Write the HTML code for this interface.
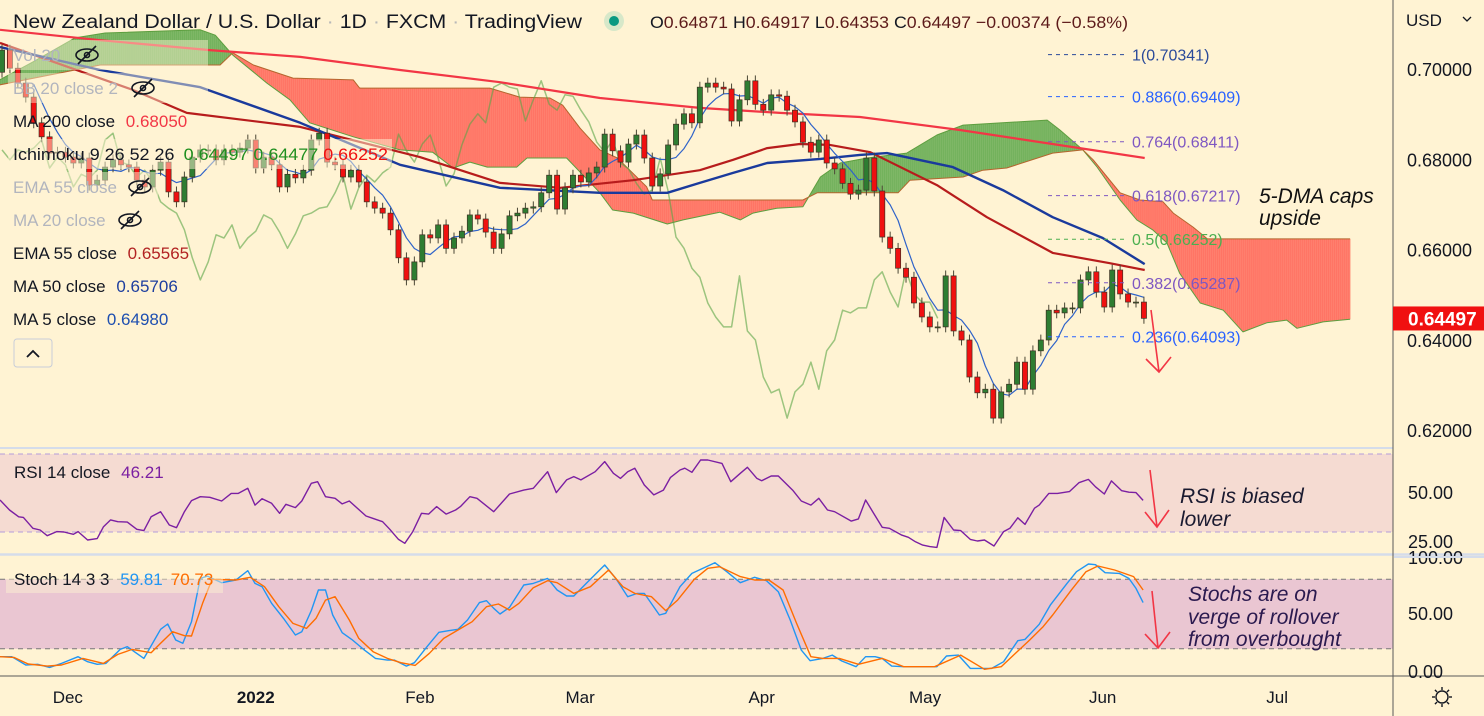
<!DOCTYPE html>
<html><head><meta charset="utf-8"><style>
body{margin:0;background:#fff3d3;}
svg{display:block;font-family:"Liberation Sans",sans-serif;}
</style></head><body>
<svg id="c" width="1484" height="716" viewBox="0 0 1484 716" xmlns="http://www.w3.org/2000/svg">
<rect x="0" y="0" width="1484" height="716" fill="#fff3d3"/>
<defs><clipPath id="mainClip"><rect x="0" y="0" width="1393" height="447"/></clipPath>
<clipPath id="rsiClip"><rect x="0" y="449" width="1393" height="104"/></clipPath>
<clipPath id="stClip"><rect x="0" y="556" width="1393" height="119"/></clipPath></defs>
<g id="rsiBg"></g>
<g id="stBg"></g>
<g id="cloud" clip-path="url(#mainClip)"></g>
<g id="lines" clip-path="url(#mainClip)"></g>
<g id="candles" clip-path="url(#mainClip)"></g>
<g id="fib"></g>
<g id="rsiG" clip-path="url(#rsiClip)"></g>
<g id="stG" clip-path="url(#stClip)"></g>
<g id="axes"></g>

<g font-size="17">
<text x="13" y="28" font-size="19" fill="#131722" textLength="569" lengthAdjust="spacingAndGlyphs">New Zealand Dollar / U.S. Dollar <tspan fill="#b8b8b8">·</tspan> 1D <tspan fill="#b8b8b8">·</tspan> FXCM <tspan fill="#b8b8b8">·</tspan> TradingView</text>
<circle cx="614" cy="21" r="10" fill="#d7e8c9"/>
<circle cx="614" cy="21" r="5" fill="#089981"/>
<text x="650" y="28" font-size="17" fill="#131722" textLength="478" lengthAdjust="spacingAndGlyphs">O<tspan fill="#5d1a1a">0.64871</tspan> H<tspan fill="#5d1a1a">0.64917</tspan> L<tspan fill="#5d1a1a">0.64353</tspan> C<tspan fill="#5d1a1a">0.64497</tspan> <tspan fill="#5d1a1a">−0.00374 (−0.58%)</tspan></text>
<rect x="8" y="40" width="200" height="30" fill="#fff3d3" opacity="0.45"/>
<text x="13" y="61" fill="#b2b5be">Vol 20</text>
<g stroke="#131722" fill="none" stroke-width="1.6"><ellipse cx="87" cy="55" rx="11" ry="6"/><circle cx="87" cy="55" r="2.5"/><line x1="78" y1="64" x2="96" y2="46"/></g>
<rect x="8" y="73" width="200" height="30" fill="#fff3d3" opacity="0.45"/>
<text x="13" y="94" fill="#b2b5be">BB 20 close 2</text>
<g stroke="#131722" fill="none" stroke-width="1.6"><ellipse cx="143" cy="88" rx="11" ry="6"/><circle cx="143" cy="88" r="2.5"/><line x1="134" y1="97" x2="152" y2="79"/></g>
<text x="13" y="127" fill="#131722">MA 200 close <tspan dx="6" fill="#f23645">0.68050</tspan></text>
<rect x="8" y="139" width="384" height="30" fill="#fff3d3" opacity="0.5"/>
<text x="13" y="160" fill="#131722" textLength="375" lengthAdjust="spacingAndGlyphs">Ichimoku 9 26 52 26 <tspan dx="4" fill="#1f8f1f">0.64497</tspan> <tspan fill="#1f8f1f">0.64477</tspan> <tspan fill="#f01010">0.66252</tspan></text>
<rect x="8" y="172" width="150" height="30" fill="#fff3d3" opacity="0.5"/>
<text x="13" y="193" fill="#b2b5be">EMA 55 close</text>
<g stroke="#131722" fill="none" stroke-width="1.6"><ellipse cx="140" cy="187" rx="11" ry="6"/><circle cx="140" cy="187" r="2.5"/><line x1="131" y1="196" x2="149" y2="178"/></g>
<text x="13" y="226" fill="#b2b5be">MA 20 close</text>
<g stroke="#131722" fill="none" stroke-width="1.6"><ellipse cx="130" cy="220" rx="11" ry="6"/><circle cx="130" cy="220" r="2.5"/><line x1="121" y1="229" x2="139" y2="211"/></g>
<text x="13" y="259" fill="#131722">EMA 55 close <tspan dx="6" fill="#b22222">0.65565</tspan></text>
<text x="13" y="292" fill="#131722">MA 50 close <tspan dx="6" fill="#1e3f9f">0.65706</tspan></text>
<text x="13" y="325" fill="#131722">MA 5 close <tspan dx="6" fill="#1e4fb0">0.64980</tspan></text>
<g><rect x="14" y="339" width="38" height="28" rx="3" fill="none" stroke="#c8cdd8"/><path d="M27 357 L33 351 L39 357" fill="none" stroke="#131722" stroke-width="1.8"/></g>
</g>

<g font-style="italic" font-size="21">
<text x="1259" y="203" fill="#111">5-DMA caps</text>
<text x="1259" y="225" fill="#111">upside</text>
<text x="1180" y="503" fill="#1a1a30">RSI is biased</text>
<text x="1180" y="526" fill="#1a1a30">lower</text>
<text x="1188" y="601" fill="#2b1a4f">Stochs are on</text>
<text x="1188" y="624" fill="#2b1a4f">verge of rollover</text>
<text x="1188" y="646" fill="#2b1a4f">from overbought</text>
<g stroke="#f23645" stroke-width="1.6" fill="none">
<path d="M1151 310 L1159 372 M1146 359 L1159 372 L1171 357"/>
<path d="M1150 470 L1157 527 M1145 512 L1157 527 L1169 510"/>
<path d="M1152 591 L1158 648 M1145 634 L1158 648 L1170 632"/>
</g>
</g>
</svg>
<script>
// ---------- data ----------
const closes = [0.7044,0.7004,0.6971,0.6940,0.6883,0.6852,0.6816,0.6818,0.6807,0.6794,0.6805,0.6745,0.6756,0.6785,0.6801,0.6790,0.6785,0.6756,0.6741,0.6778,
0.6796,0.6730,0.6708,0.6763,0.6807,0.6823,0.6823,0.6801,0.6823,0.6818,0.6827,0.6845,0.6783,0.6807,0.6790,0.6741,0.6769,0.6761,0.6778,0.6845,
0.6860,0.6796,0.6790,0.6763,0.6778,0.6752,0.6708,0.6694,0.6683,0.6646,0.6584,0.6535,0.6575,0.6635,0.6628,0.6657,0.6605,0.6628,0.6643,0.6679,
0.6670,0.6641,0.6605,0.6637,0.6677,0.6683,0.6694,0.6697,0.6728,0.6767,0.6692,0.6739,0.6767,0.6752,0.6772,0.6785,0.6858,0.6821,0.6796,0.6836,
0.6856,0.6805,0.6743,0.6770,0.6834,0.6880,0.6903,0.6883,0.6962,0.6971,0.6962,0.6958,0.6887,0.6934,0.6976,0.6924,0.6911,0.6945,0.6942,0.6911,
0.6885,0.6840,0.6818,0.6845,0.6794,0.6781,0.6749,0.6725,0.6734,0.6805,0.6732,0.6630,0.6605,0.6561,0.6541,0.6484,0.6453,0.6431,0.6431,0.6544,
0.6422,0.6402,0.6320,0.6285,0.6293,0.6229,0.6287,0.6304,0.6353,0.6293,0.6378,0.6402,0.6468,0.6462,0.6473,0.6473,0.6535,0.6553,0.6508,0.6475,
0.6557,0.6504,0.6486,0.6486,0.6450];
const firstOpen = 0.6995;
const ma200Idx = [-0.25,12.4,26.2,37.6,50.2,62.8,75.4,88.0,98.1,108.2,120.8,135.9,144.1];
const ma200Val = [0.7089,0.7066,0.7044,0.7029,0.7000,0.6973,0.6938,0.6916,0.6905,0.6896,0.6867,0.6827,0.6805];
const ema55Idx = [-0.25,16.5,23.3,37.6,52.7,62.8,70.4,79.6,88.0,92.2,96.5,100.6,104.4,109.5,117.9,124.2,132.5,139.7,144.1];
const ema55Val = [0.7060,0.6956,0.6905,0.6874,0.6807,0.6750,0.6739,0.6756,0.6778,0.6801,0.6827,0.6836,0.6834,0.6818,0.6745,0.6674,0.6595,0.6572,0.6557];
const ma50Idx = [-0.25,12.4,25.0,37.6,50.2,62.8,75.4,83.9,88.0,92.2,96.5,103.2,108.2,111.6,119.9,126.2,132.5,138.8,144.1];
const ma50Val = [0.7051,0.7000,0.6962,0.6883,0.6790,0.6739,0.6728,0.6728,0.6750,0.6772,0.6794,0.6803,0.6812,0.6816,0.6785,0.6734,0.6674,0.6628,0.6570];
const spanAIdx = [-0.3,3.9,9.2,13.0,25.0,26.9,29.1,33.4,36.3,38.8,44.3,50.2,54.3,56.9,59.0,61.2,64.9,66.2,71.2,75.4,77.0,79.6,83.9,85.9,90.5,93.1,94.7,97.7,101.0,103.2,105.7,109.1,114.1,117.9,121.2,131.8,133.4,136.3,138.1,141.0,143.1,145.1,146.9,148.5,151.1,154.0,156.5,159.5,162.0,163.3,166.6,170.0];
const spanAVal = [0.6978,0.7018,0.7071,0.7082,0.7089,0.7077,0.7033,0.6971,0.6934,0.6883,0.6852,0.6823,0.6818,0.6783,0.6796,0.6785,0.6785,0.6805,0.6805,0.6728,0.6690,0.6683,0.6659,0.6668,0.6685,0.6668,0.6683,0.6694,0.6697,0.6763,0.6794,0.6805,0.6816,0.6856,0.6878,0.6889,0.6867,0.6823,0.6785,0.6712,0.6668,0.6646,0.6617,0.6550,0.6484,0.6468,0.6420,0.6440,0.6446,0.6428,0.6442,0.6448];
const spanBIdx = [-0.3,12.4,27.5,29.1,31.7,36.7,44.3,45.1,61.5,65.3,69.1,70.7,72.9,75.4,77.6,81.3,82.0,101.0,102.8,113.0,114.5,121.2,123.7,126.7,132.5,136.3,137.6,139.7,141.0,143.5,146.4,147.7,150.2,152.0,170.0];
const spanBVal = [0.6967,0.7011,0.7011,0.7038,0.7011,0.6982,0.6978,0.6960,0.6960,0.6940,0.6938,0.6922,0.6871,0.6823,0.6805,0.6741,0.6712,0.6712,0.6728,0.6728,0.6756,0.6763,0.6778,0.6783,0.6816,0.6823,0.6801,0.6756,0.6728,0.6712,0.6708,0.6683,0.6652,0.6626,0.6626];
const rsiPoints = [[-0.25,46.4],[0.94,41.3],[2.1,37.8],[2.7,37.5],[3.9,31.9],[4.8,31.0],[5.7,28.1],[6.9,30.2],[7.8,30.0],[9.0,28.8],[9.6,30.2],[10.8,25.9],[12.0,26.6],[12.8,32.7],[13.7,36.2],[14.6,35.3],[15.8,35.1],[17.0,31.4],[17.9,30.7],[18.8,37.8],[20.0,40.4],[21.1,33.6],[22.0,32.2],[23.0,40.4],[23.9,46.1],[25.0,48.1],[26.2,47.8],[27.7,45.9],[28.9,49.8],[29.8,49.8],[31.0,52.4],[31.9,43.8],[32.8,47.1],[34.0,44.7],[35.0,39.6],[35.8,44.2],[37.0,42.5],[37.8,45.9],[39.0,55.0],[39.8,55.8],[40.8,48.1],[42.0,47.3],[42.9,44.4],[43.8,45.9],[45.9,38.2],[46.8,37.0],[48.0,35.3],[48.9,31.4],[50.0,26.2],[50.8,24.2],[51.8,30.2],[52.9,39.6],[53.8,39.2],[54.8,43.0],[56.0,39.2],[57.2,41.3],[57.8,43.0],[59.0,48.1],[59.9,47.3],[62.0,40.4],[64.0,49.5],[65.8,51.5],[67.0,52.4],[68.8,60.9],[69.9,50.2],[71.2,56.7],[72.1,58.4],[73.0,56.7],[74.8,60.9],[76.0,66.1],[77.1,60.1],[78.0,57.5],[78.9,60.9],[79.8,62.7],[81.0,54.1],[82.2,49.0],[83.4,51.5],[84.3,58.0],[85.5,61.8],[86.1,62.7],[87.0,60.6],[88.1,66.9],[89.0,66.9],[90.8,65.2],[91.9,55.8],[93.1,60.1],[94.0,63.2],[95.2,57.5],[95.8,56.3],[97.0,58.7],[97.9,58.7],[99.7,51.5],[100.8,45.9],[102.0,43.8],[103.0,47.3],[104.1,41.3],[105.0,40.4],[107.1,35.6],[108.0,36.7],[108.9,46.4],[109.8,40.4],[111.0,32.4],[111.9,31.9],[113.4,28.5],[114.3,27.3],[115.2,25.0],[116.1,23.3],[117.0,22.5],[117.9,22.1],[118.8,37.5],[120.0,31.0],[120.9,30.7],[122.1,26.2],[123.0,25.4],[123.9,25.9],[125.1,22.8],[126.3,30.2],[127.1,31.9],[128.1,37.3],[129.0,33.9],[130.2,42.2],[130.8,43.8],[132.0,49.8],[133.1,49.8],[134.6,50.7],[135.8,55.3],[137.0,57.0],[137.9,53.2],[139.0,49.5],[139.9,56.2],[141.2,51.2],[142.1,50.4],[143.0,50.2],[143.9,46.2]];
const stochKPoints = [[-0.25,13.2],[1.24,13.2],[3.0,6.0],[4.5,6.6],[6.0,4.0],[7.5,7.4],[9.6,13.2],[10.8,8.9],[12.0,6.6],[13.1,7.4],[14.9,19.5],[15.8,21.8],[17.9,11.7],[20.0,36.8],[20.9,41.4],[21.9,27.6],[22.8,24.7],[23.9,43.4],[25.0,80.7],[25.9,82.7],[27.7,77.0],[29.5,79.3],[31.0,87.3],[31.9,76.4],[32.8,73.5],[34.0,59.2],[35.5,46.2],[37.0,31.9],[37.8,34.7],[39.0,52.9],[39.9,70.7],[40.8,70.7],[41.7,49.1],[42.9,33.9],[44.1,28.1],[45.6,19.5],[47.1,11.7],[48.6,10.3],[49.5,10.3],[51.0,5.1],[52.0,8.0],[53.6,21.8],[55.1,34.2],[56.3,35.6],[57.5,36.8],[58.7,44.8],[60.2,59.8],[61.1,61.5],[62.0,54.9],[62.8,50.0],[64.0,55.7],[65.8,75.0],[67.0,76.4],[68.8,80.7],[70.0,70.7],[71.2,65.5],[72.1,65.5],[73.9,77.9],[76.0,92.2],[77.4,80.7],[78.9,64.9],[80.1,67.8],[81.0,67.8],[82.9,49.1],[83.7,50.6],[85.5,73.5],[87.0,85.0],[88.4,89.4],[89.9,94.2],[91.4,86.5],[93.1,77.0],[94.9,81.6],[96.4,78.7],[97.9,69.2],[99.4,44.8],[100.8,18.9],[101.9,9.7],[103.5,11.7],[104.7,14.6],[105.9,9.5],[107.7,4.6],[108.9,13.2],[110.1,13.2],[111.0,11.7],[112.2,5.1],[113.7,4.6],[117.9,4.6],[119.1,13.8],[120.6,14.6],[122.1,3.1],[124.8,3.1],[126.3,8.9],[128.1,27.0],[129.0,28.1],[130.8,41.1],[132.2,57.7],[134.3,76.4],[135.5,86.5],[137.0,93.1],[137.9,92.5],[139.1,85.6],[140.9,85.0],[142.1,80.7],[143.0,72.1],[143.9,59.8]];
const stochDPoints = [[-0.25,13.2],[1.5,12.6],[3.3,6.9],[5.7,5.1],[7.5,6.0],[10.2,11.7],[12.8,7.4],[14.6,15.2],[16.4,19.5],[18.8,16.6],[20.0,24.7],[21.5,34.7],[23.0,31.3],[23.9,31.0],[25.3,59.2],[26.5,79.9],[29.5,79.3],[31.3,81.6],[33.1,73.5],[34.9,56.3],[36.7,41.9],[38.4,37.6],[39.6,46.2],[40.8,62.0],[42.0,64.9],[43.8,44.8],[45.0,29.0],[46.8,17.5],[48.6,11.7],[50.3,8.0],[52.1,5.7],[53.9,16.1],[55.7,29.0],[57.5,36.2],[59.3,43.4],[61.1,56.3],[62.6,58.6],[64.0,53.4],[65.2,59.2],[67.0,72.7],[68.8,78.7],[70.0,77.0],[72.1,67.8],[74.2,73.5],[76.5,87.9],[78.3,73.5],[79.8,67.8],[81.9,64.9],[83.7,52.9],[85.2,62.0],[87.3,79.9],[89.0,89.4],[90.5,90.8],[93.1,82.2],[94.9,79.3],[96.7,79.3],[98.5,70.7],[100.2,41.9],[102.0,13.2],[103.5,11.7],[105.6,11.7],[108.0,6.6],[111.0,11.7],[113.7,4.6],[117.6,4.6],[120.9,14.6],[123.9,2.3],[126.0,4.6],[127.8,16.1],[129.6,27.6],[131.3,39.1],[132.5,49.1],[134.9,71.2],[136.7,86.5],[138.2,91.4],[140.3,87.9],[142.7,82.2],[143.9,70.7]];
const fibRatios = ["1","0.886","0.764","0.618","0.5","0.382","0.236"];
const fibPrices = [0.70341,0.69409,0.68411,0.67217,0.66252,0.65287,0.64093];
const priceTicks = [0.70,0.68,0.66,0.64,0.62];
const rsiTicks = [50,25];
const stochTicks = [100,50,0];
const timeLabels = ["Dec","2022","Feb","Mar","Apr","May","Jun","Jul"];
const timeIdx = [8.3,32.0,52.7,72.9,95.8,116.4,138.8,160.8];
const lastPrice = 0.64497;

// ---------- scales ----------
const NS="http://www.w3.org/2000/svg";
const X = i => 2 + i*7.93;
const Y = p => 70 + (0.70 - p)*4515;
const YR = v => 493 - (v-50)*1.95;
const YS = v => 672 - v*1.16;
function mk(tag, attrs, parent){const e=document.createElementNS(NS,tag);for(const k in attrs)e.setAttribute(k,attrs[k]);parent.appendChild(e);return e;}
function interp(idx, val, t){ if(t<=idx[0])return val[0]; for(let k=1;k<idx.length;k++){ if(t<=idx[k]){const f=(t-idx[k-1])/(idx[k]-idx[k-1]);return val[k-1]+f*(val[k]-val[k-1]);}} return val[val.length-1]; }

const rb=document.getElementById('rsiBg');
let e=mk('rect',{x:0,y:YR(70),width:1393,height:YR(30)-YR(70),fill:'#f5dbd2'},rb);


[70,30].forEach(v=>{mk('line',{x1:0,x2:1393,y1:YR(v),y2:YR(v),stroke:'#b39ddb','stroke-dasharray':'5,4','stroke-width':1},rb);});
const sb=document.getElementById('stBg');
e=mk('rect',{x:0,y:YS(80),width:1393,height:YS(20)-YS(80),fill:'#eac6d2'},sb);


[80,20].forEach(v=>{mk('line',{x1:0,x2:1393,y1:YS(v),y2:YS(v),stroke:'#787878','stroke-dasharray':'5,4','stroke-width':1},sb);});

const cg=document.getElementById('cloud');
const step=0.25;
for(let t=-0.5;t<170;t+=step){
  const a0=interp(spanAIdx,spanAVal,t),a1=interp(spanAIdx,spanAVal,t+step);
  const b0=interp(spanBIdx,spanBVal,t),b1=interp(spanBIdx,spanBVal,t+step);
  const col=((a0+a1)>=(b0+b1))?'rgba(76,160,60,0.72)':'rgba(255,82,70,0.72)';
  const pg=mk('polygon',{points:`${X(t)},${Y(a0)} ${X(t+step)+0.3},${Y(a1)} ${X(t+step)+0.3},${Y(b1)} ${X(t)},${Y(b0)}`,fill:col},cg);
  
  
}
function poly(idx,val,stroke,w,parent,name){
  let d='';for(let k=0;k<idx.length;k++){d+=(k?'L':'M')+X(idx[k]).toFixed(1)+' '+Y(val[k]).toFixed(1);}
  const p=mk('path',{d:d,fill:'none',stroke:stroke,'stroke-width':w,'stroke-linejoin':'round'},parent);
  
  
}
poly(spanAIdx,spanAVal,'#5d9e3f',1,cg,'leading-span-a');
poly(spanBIdx,spanBVal,'#b5652d',1,cg,'leading-span-b');

const lg=document.getElementById('lines');
const chIdx=[],chVal=[];
for(let i=26;i<closes.length;i++){chIdx.push(i-26);chVal.push(closes[i]);}
poly(chIdx,chVal,'rgba(90,165,70,0.6)',1.5,lg,'lagging-span');
poly(ma200Idx,ma200Val,'#f23645',2.2,lg,'ma200-line');
poly(ema55Idx,ema55Val,'#b71c1c',2.2,lg,'ema55-line');
poly(ma50Idx,ma50Val,'#1a3a9c',2.4,lg,'ma50-line');
const m5i=[],m5v=[];
for(let i=4;i<closes.length;i++){let s=0;for(let k=0;k<5;k++)s+=closes[i-k];m5i.push(i);m5v.push(s/5);}
poly(m5i,m5v,'#2f63c9',1.2,lg,'ma5-line');

const kg=document.getElementById('candles');
for(let i=0;i<closes.length;i++){
  const o=i?closes[i-1]:firstOpen,c=closes[i];
  const up=c>=o, x=X(i);
  const hi=Math.max(o,c)+0.0012, lo=Math.min(o,c)-0.0012;
  const w=mk('line',{x1:x,x2:x,y1:Y(hi),y2:Y(lo),stroke:'#4a4634','stroke-width':1},kg);
  
  
  const top=Y(Math.max(o,c)),h=Math.max(1,Math.abs(Y(o)-Y(c)));
  const b=mk('rect',{x:x-2.6,y:top,width:5.2,height:h,fill:up?'#2e7d32':'#f01010',stroke:'#3e3224','stroke-width':0.7},kg);
  
  
}

const fg=document.getElementById('fib');
const fibCols=['#2a4a9a','#2962ff','#7e57c2','#7e57c2','#4caf50','#7e57c2','#2962ff'];
fibPrices.forEach((p,k)=>{
  const l=mk('line',{x1:1048,x2:1127,y1:Y(p),y2:Y(p),stroke:fibCols[k],'stroke-dasharray':'4,4','stroke-width':1},fg);
  
  
  const t=mk('text',{x:1132,y:Y(p)+6,'font-size':16,fill:fibCols[k]},fg);
  t.textContent=fibRatios[k]+'('+p.toFixed(5)+')';
  
  
});

function pline(pts,ys,stroke,w,parent,name){
  let d='';pts.forEach((q,k)=>{d+=(k?'L':'M')+X(q[0]).toFixed(1)+' '+ys(q[1]).toFixed(1);});
  const p=mk('path',{d:d,fill:'none',stroke:stroke,'stroke-width':w,'stroke-linejoin':'round'},parent);
  
  
}
pline(rsiPoints,YR,'#7b1fa2',1.4,document.getElementById('rsiG'),'rsi-line');
pline(stochKPoints,YS,'#2196f3',1.4,document.getElementById('stG'),'stoch-k-line');
pline(stochDPoints,YS,'#ff6d00',1.4,document.getElementById('stG'),'stoch-d-line');

const ax=document.getElementById('axes');
mk('line',{x1:0,x2:1393,y1:448,y2:448,stroke:'#d5dcea','stroke-width':2},ax);
mk('line',{x1:0,x2:1484,y1:554.5,y2:554.5,stroke:'#d5dcea','stroke-width':2.5},ax);
mk('line',{x1:0,x2:1484,y1:676,y2:676,stroke:'#5a5a5a','stroke-width':1},ax);
mk('line',{x1:1393,x2:1393,y1:0,y2:716,stroke:'#5a5a5a','stroke-width':1},ax);
let t=mk('text',{x:1406,y:26,'font-size':17,fill:'#131722'},ax);t.textContent='USD';


mk('path',{d:'M1463 17 L1467 21 L1471 17',fill:'none',stroke:'#131722','stroke-width':1.3},ax);
priceTicks.forEach(p=>{const tt=mk('text',{x:1407,y:Y(p)+6,'font-size':18,fill:'#131722'},ax);tt.textContent=p.toFixed(5);

});
rsiTicks.forEach(v=>{const tt=mk('text',{x:1408,y:YR(v)+6,'font-size':18,fill:'#131722'},ax);tt.textContent=v.toFixed(2);

});
stochTicks.forEach(v=>{const yy=Math.max(YS(v)+6,564);const tt=mk('text',{x:1408,y:yy,'font-size':18,fill:'#131722'},ax);tt.textContent=v.toFixed(2);

});
mk('rect',{x:1394,y:556,width:90,height:2,fill:'#d5dcea'},ax);
const pb=mk('rect',{x:1393,y:Y(lastPrice)-12,width:91,height:24,fill:'#f01010'},ax);


t=mk('text',{x:1408,y:Y(lastPrice)+7,'font-size':19,'font-weight':'bold',fill:'#fff'},ax);t.textContent=lastPrice.toFixed(5);


timeLabels.forEach((s,k)=>{const tt=mk('text',{x:X(timeIdx[k]),y:703,'font-size':17,'text-anchor':'middle',fill:'#131722','font-weight':s==='2022'?'bold':'normal'},ax);tt.textContent=s;

});
const gear=mk('g',{stroke:'#131722',fill:'none','stroke-width':1.4},ax);


mk('circle',{cx:1442,cy:697,r:6},gear);
for(let a=0;a<8;a++){const r=a*Math.PI/4;mk('line',{x1:1442+Math.cos(r)*7,y1:697+Math.sin(r)*7,x2:1442+Math.cos(r)*10,y2:697+Math.sin(r)*10},gear);}
const rl=mk('text',{x:14,y:478,'font-size':17,fill:'#131722'},ax);
rl.textContent='RSI 14 close ';


const rv=mk('tspan',{dx:6,fill:'#7b1fa2'},rl);rv.textContent='46.21';
mk('rect',{x:6,y:565,width:217,height:28,fill:'#fff3d3',opacity:0.45},ax);
const sl=mk('text',{x:14,y:585,'font-size':17,fill:'#131722'},ax);
sl.textContent='Stoch 14 3 3 ';


const sk=mk('tspan',{dx:6,fill:'#2196f3'},sl);sk.textContent='59.81';
const sd=mk('tspan',{dx:8,fill:'#ff6d00'},sl);sd.textContent='70.73';
</script>
</body></html>
